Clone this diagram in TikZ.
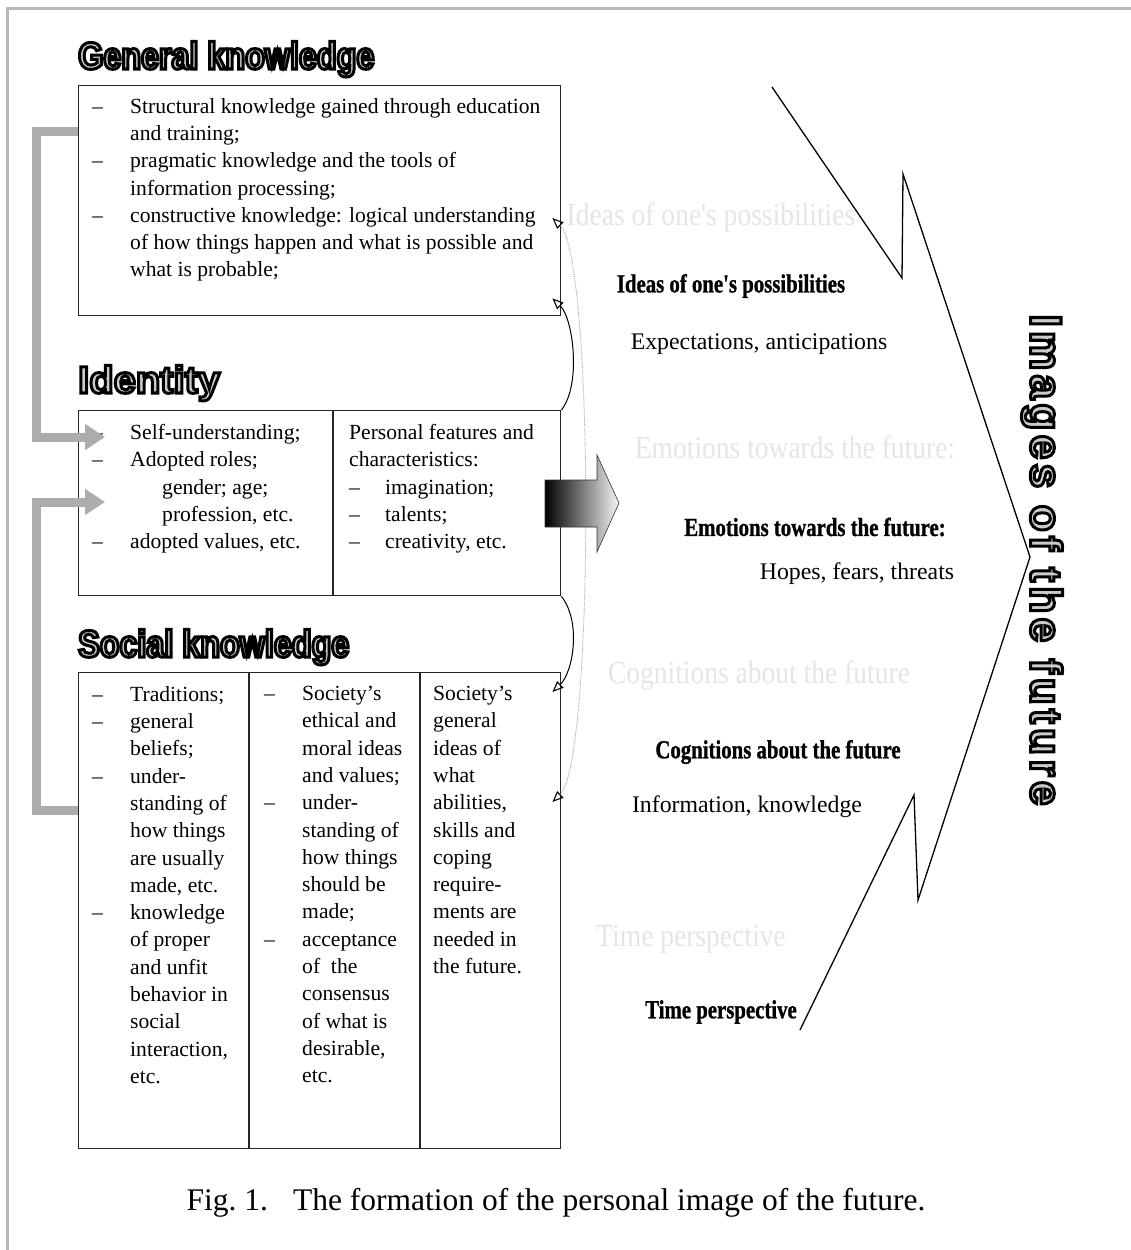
\documentclass[tikz,border=0pt]{standalone}
\usepackage{fontspec}
\setmainfont{Liberation Serif}
\newfontfamily\ttlfont[FakeStretch=0.85]{Liberation Sans Bold}
\newfontfamily\ttlwide[FakeStretch=1.05]{Liberation Sans Bold}
\newfontfamily\vertfont[LetterSpace=10]{Liberation Sans Bold}
\newfontfamily\bldfont[FakeStretch=0.8,FakeBold=1]{Liberation Serif Bold}
\newfontfamily\ghostfont[FakeStretch=0.86]{Liberation Serif}
\usepackage{tikz}
\usetikzlibrary{positioning,arrows.meta,calc}

\newcommand{\dd}{\makebox[38pt][l]{--}}
\newcommand{\ii}{\hspace*{38pt}}
% outlined lettering: grey fill, black stroke
\newcommand{\outl}[1]{\textcolor{gray!40}{\special{pdf:literal direct q 2 Tr 3 w 0 G}#1\special{pdf:literal direct Q}}}

\begin{document}
\begin{tikzpicture}[
    x=1pt, y=-1pt,
    box/.style={draw=black!85, line width=1.4pt, inner sep=0pt, anchor=north west},
    body/.style={align=left, anchor=north west, inner sep=0pt, font=\fontsize{21.6}{27.3}\selectfont},
    ttl/.style={anchor=base west, inner sep=0pt, font=\ttlfont\fontsize{38}{40}\selectfont},
    ghost/.style={text=gray!20, inner sep=0pt, font=\ghostfont\fontsize{32}{34}\selectfont},
    bld/.style={inner sep=0pt, font=\bldfont\fontsize{26}{28}\selectfont},
    plain/.style={inner sep=0pt, font=\fontsize{23.8}{26}\selectfont},
    feed/.style={draw=gray!65, line width=9pt, line join=miter, -{Triangle[length=20pt,width=25pt]}},
    link/.style={line width=1pt, -{Triangle[open,length=11pt,width=9pt,line width=1.1pt]}},
    longlink/.style={draw=gray!70, line width=0.9pt, densely dotted,
        {Triangle[open,color=black,length=11pt,width=9pt,line width=1.1pt]}-{Triangle[open,color=black,length=11pt,width=9pt,line width=1.1pt]}}
]
\useasboundingbox (0,0) rectangle (1131,1250);
\draw[gray!55, line width=3pt] (7,1250) -- (7,8) -- (1131,8);

% faint duplicates behind the labels
\node[ghost] (ghostideas) at (711,218) {Ideas of one's possibilities};
\node[ghost] (ghostemo) at (795,447) {Emotions towards the future:};
\node[ghost] (ghostcog) at (759,676) {Cognitions about the future};
\node[ghost] (ghosttime) at (691,939) {Time perspective};

% the three boxes
\node[box, minimum width=482pt, minimum height=230pt] (genbox) at (78,85) {};
\node[box, minimum width=482pt, minimum height=185pt] (idbox) at (78,410) {};
\node[box, minimum width=482pt, minimum height=476pt] (socbox) at (78,672) {};
\draw[line width=1.4pt, black!85] ([xshift=255pt]idbox.north west) -- ([xshift=255pt]idbox.south west);
\draw[line width=1.4pt, black!85] ([xshift=171pt]socbox.north west) -- ([xshift=171pt]socbox.south west);
\draw[line width=1.4pt, black!85] ([xshift=342pt]socbox.north west) -- ([xshift=342pt]socbox.south west);

\node[ttl] (gentitle) at ([yshift=16pt]genbox.north west) {\outl{General knowledge}};
\node[ttl, font=\ttlwide\fontsize{38}{40}\selectfont] (idtitle) at ([yshift=17pt]idbox.north west) {\outl{Identity}};
\node[ttl] (soctitle) at ([yshift=15pt]socbox.north west) {\outl{Social knowledge}};

\node[body] (gentext) at (92,98) {\dd Structural knowledge gained through education\\
\ii and training;\\
\dd pragmatic knowledge and the tools of\\
\ii information processing;\\
\dd constructive knowledge: logical understanding\\
\ii of how things happen and what is possible and\\
\ii what is probable;};

\node[body] (idleft) at (92,424) {\dd Self-understanding;\\
\dd Adopted roles;\\
\ii\hspace*{32pt}gender; age;\\
\ii\hspace*{32pt}profession, etc.\\
\dd adopted values, etc.};
\node[body] (idright) at (349,424) {Personal features and\\
characteristics:\\
\makebox[36pt][l]{--}imagination;\\
\makebox[36pt][l]{--}talents;\\
\makebox[36pt][l]{--}creativity, etc.};

\node[body] (soccol1) at (92,686) {\dd Traditions;\\ \dd general\\ \ii beliefs;\\ \dd under-\\
\ii standing of\\ \ii how things\\ \ii are usually\\ \ii made, etc.\\ \dd knowledge\\
\ii of proper\\ \ii and unfit\\ \ii behavior in\\ \ii social\\ \ii interaction,\\ \ii etc.};
\node[body] (soccol2) at (264,686) {\dd Society's\\ \ii ethical and\\ \ii moral ideas\\ \ii and values;\\
\dd under-\\ \ii standing of\\ \ii how things\\ \ii should be\\ \ii made;\\ \dd acceptance\\
\ii of\ \ the\\ \ii consensus\\ \ii of what is\\ \ii desirable,\\ \ii etc.};
\node[body] (soccol3) at (433,686) {Society's\\ general\\ ideas of\\ what\\ abilities,\\ skills and\\
coping\\ require-\\ ments are\\ needed in\\ the future.};

% grey feedback into identity
\coordinate (gkout) at ([yshift=-46pt]genbox.north west);
\coordinate (skout) at ([yshift=-138pt]socbox.north west);
\coordinate (idin1) at ([xshift=27pt,yshift=-27pt]idbox.north west);
\coordinate (idin2) at ([xshift=27pt,yshift=-92pt]idbox.north west);
\draw[feed] (gkout) -- ++(-42,0) |- (idin1);
\draw[feed] (skout) -- ++(-42,0) |- (idin2);

% thin links on the right edge
\coordinate (gkin1) at ([xshift=-9pt,yshift=18pt]genbox.south east);
\coordinate (gkin2) at ([xshift=-9pt,yshift=-133pt]genbox.north east);
\coordinate (skin1) at ([xshift=-9pt,yshift=-20pt]socbox.north east);
\coordinate (skin2) at ([xshift=-9pt,yshift=-130pt]socbox.north east);
\draw[link] (idbox.north east) .. controls +(20,-25) and +(21,20) .. (gkin1);
\draw[link] (idbox.south east) .. controls +(20,25) and +(21,-20) .. (skin1);
\draw[longlink] (gkin2) .. controls +(42,40) and +(42,-40) .. (skin2);

% shaded arrow out of identity
\shade[draw=black!80, line width=0.6pt, left color=black, middle color=gray!45, right color=gray!8]
  (545,480) -- (597,480) -- (597,455) -- (619,503) -- (597,552) -- (597,527) -- (545,527) -- cycle;

% big broken arrow
\draw[line width=1.3pt, line join=miter] (772,87) -- (902,278) -- (903,174) -- (1030,557)
  -- (918,900) -- (914,795) -- (800,1030);
\node[rotate=-90, inner sep=0pt, font=\vertfont\fontsize{44}{46}\selectfont] (imgtitle) at (1042,560) {\outl{Images of the future}};

\node[bld] (ideas) at (731,286) {Ideas of one's possibilities};
\node[plain] (expect) at (759,344) {Expectations, anticipations};
\node[bld] (emotions) at (815,527) {Emotions towards the future:};
\node[plain] (hopes) at (857,574) {Hopes, fears, threats};
\node[bld] (cognitions) at (778,752) {Cognitions about the future};
\node[plain] (info) at (747,807) {Information, knowledge};
\node[bld] (timeper) at (721,1012) {Time perspective};

\node[inner sep=0pt, font=\fontsize{31.5}{34}\selectfont] (caption) at (556,1203) {Fig.~1.\hspace{0.8em}The formation of the personal image of the future.};
\end{tikzpicture}
\end{document}
